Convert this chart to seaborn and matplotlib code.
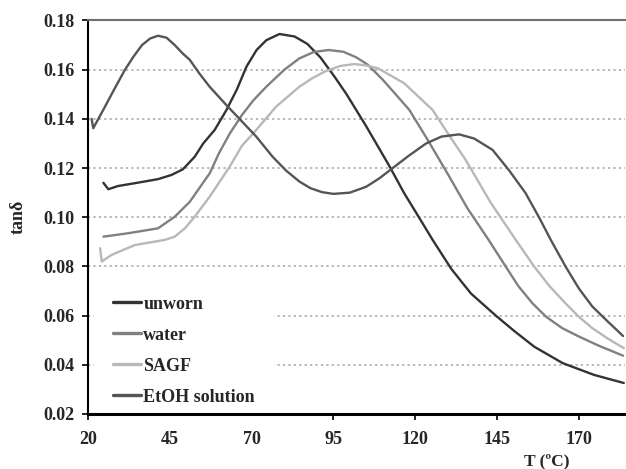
import numpy as np
import pandas as pd
import seaborn as sns
import matplotlib.pyplot as plt
from matplotlib.ticker import FormatStrFormatter

# values
unworn_t = [24.7, 26.2, 29.2, 35, 41.4, 45.5, 49, 52.6, 55.2, 58.7, 62.3, 65.5, 68.4, 71.5,
            74.5, 78.5, 83.1, 87, 91, 95.3, 99, 105, 112, 116.6, 122.2, 125.3, 131, 137,
            144.6, 150, 156.3, 165, 174.6, 183.7]
unworn_v = [0.114, 0.1114, 0.1127, 0.1140, 0.1155, 0.1172, 0.1195, 0.1246, 0.130, 0.1355,
            0.1436, 0.152, 0.1612, 0.168, 0.172, 0.1745, 0.1735, 0.1705, 0.165, 0.1572, 0.150,
            0.137, 0.121, 0.1098, 0.0976, 0.0908, 0.079, 0.069, 0.060, 0.054, 0.0474, 0.0407,
            0.0359, 0.0326]

water_t = [24.7, 32.3, 41.4, 46.5, 51.1, 57.2, 60, 63.3, 67, 70.5, 74.5, 80, 84.6, 89, 93.5,
           98, 102, 105.5, 110, 114, 118.2, 124, 130.4, 136, 142.4, 147.6, 151.5, 155.8, 160,
           164.9, 170, 176, 183.5]
water_v = [0.0921, 0.0935, 0.0955, 0.1002, 0.1063, 0.1179, 0.126, 0.134, 0.1415, 0.1475,
           0.1531, 0.160, 0.1646, 0.1672, 0.168, 0.1673, 0.165, 0.1620, 0.156, 0.150, 0.1436,
           0.131, 0.1165, 0.1035, 0.0908, 0.080, 0.072, 0.065, 0.0595, 0.0549, 0.0515, 0.0478,
           0.0437]

sagf_t = [23.7, 24.2, 27.2, 34.3, 40, 43.5, 46.5, 49.6, 52.6, 57.2, 63.3, 67, 71.4, 77.5,
          84.6, 88.5, 92.3, 97, 101.4, 105, 108.5, 112, 116.6, 121, 125.3, 130, 135.4, 143,
          150.7, 156.3, 161, 165.9, 170, 174.1, 179, 183.7]
sagf_v = [0.0874, 0.082, 0.0847, 0.0887, 0.0900, 0.0908, 0.0921, 0.0955, 0.1002, 0.1084,
          0.1206, 0.1290, 0.1355, 0.1450, 0.1531, 0.1565, 0.1592, 0.1615, 0.1623, 0.1617,
          0.1606, 0.158, 0.1545, 0.149, 0.1436, 0.134, 0.1233, 0.106, 0.0908, 0.080, 0.072,
          0.065, 0.0595, 0.0549, 0.0505, 0.0468]

etoh_t = [21.1, 21.6, 25, 28, 31.3, 34, 36.5, 39, 41.4, 44, 46.5, 49, 51.1, 54, 57.2, 62.7,
          67, 71.4, 76.4, 80.5, 84.6, 88, 91.5, 95, 100, 105, 109, 113.1, 118, 123.3, 128,
          133.4, 138, 143.6, 148.7, 153.7, 158, 161.4, 165.9, 170, 174.1, 178.5, 183.5]
etoh_v = [0.140, 0.1362, 0.1445, 0.152, 0.160, 0.1655, 0.170, 0.1727, 0.1738, 0.1730, 0.170,
          0.1665, 0.164, 0.1585, 0.153, 0.145, 0.139, 0.1328, 0.1246, 0.119, 0.1145, 0.1118,
          0.1102, 0.1095, 0.110, 0.1124, 0.1158, 0.120, 0.125, 0.130, 0.1328, 0.1337, 0.1320,
          0.1274, 0.119, 0.1098, 0.0995, 0.0908, 0.080, 0.071, 0.0637, 0.058, 0.0517]

labels = ["unworn", "water", "SAGF", "EtOH solution"]
colors = {"unworn": "#333333", "water": "#808080", "SAGF": "#b8b8b8", "EtOH solution": "#555555"}

frames = []
for name, t, v in zip(labels, [unworn_t, water_t, sagf_t, etoh_t], [unworn_v, water_v, sagf_v, etoh_v]):
    frames.append(pd.DataFrame({"T": t, "tan": v, "sample": name}))
df = pd.concat(frames, ignore_index=True)

sns.set_style("ticks")
plt.rcParams["font.family"] = ["Liberation Serif", "DejaVu Serif"]
plt.rcParams["font.weight"] = "bold"

fig = plt.figure(figsize=(6.26, 4.69), dpi=100)
ax = fig.add_axes([0.1406, 0.1173, 0.8574, 0.839])

sns.lineplot(data=df, x="T", y="tan", hue="sample", hue_order=labels, palette=colors,
             estimator=None, sort=False, linewidth=1.7, ax=ax)

ax.set_xlim(20, 184)
ax.set_ylim(0.02, 0.18)
ax.set_xticks(np.arange(20, 171, 25))
ax.set_yticks(np.arange(0.02, 0.181, 0.02))
ax.yaxis.set_major_formatter(FormatStrFormatter("%.2f"))
ax.tick_params(labelsize=13, length=4.5, width=1.2, color="black")
ax.tick_params(axis="x", pad=8)
ax.tick_params(axis="y", pad=5)
for lab in ax.get_xticklabels() + ax.get_yticklabels():
    lab.set_fontweight("bold")

for y in np.arange(0.04, 0.17, 0.02):
    ax.axhline(y, color="#b0b0b0", linestyle=(0, (1.2, 1.8)), linewidth=1.3, zorder=0)

ax.spines["left"].set_color("black")
ax.spines["left"].set_linewidth(1.5)
ax.spines["bottom"].set_color("black")
ax.spines["bottom"].set_linewidth(2.2)
ax.spines["top"].set_color("#707070")
ax.spines["top"].set_linewidth(1.5)
ax.spines["right"].set_visible(False)

ax.set_ylabel("tanδ", fontsize=13, fontweight="bold", labelpad=12)
ax.set_xlabel("T (ºC)", fontsize=12.5, fontweight="bold")
ax.xaxis.set_label_coords(0.855, -0.1)

handles, labs = ax.get_legend_handles_labels()
leg = ax.legend(handles, labs, loc="lower left", bbox_to_anchor=(0.012, -0.025), frameon=True,
                facecolor="white", edgecolor="white", framealpha=1, fancybox=False,
                fontsize=13, handlelength=1.6, handletextpad=0.1, labelspacing=0.78,
                borderpad=1.0, borderaxespad=0.0)
leg.set_zorder(1)
for line in leg.get_lines():
    line.set_linewidth(2.4)
for txt in leg.get_texts():
    txt.set_fontweight("bold")

fig.savefig("out.png", dpi=100)
